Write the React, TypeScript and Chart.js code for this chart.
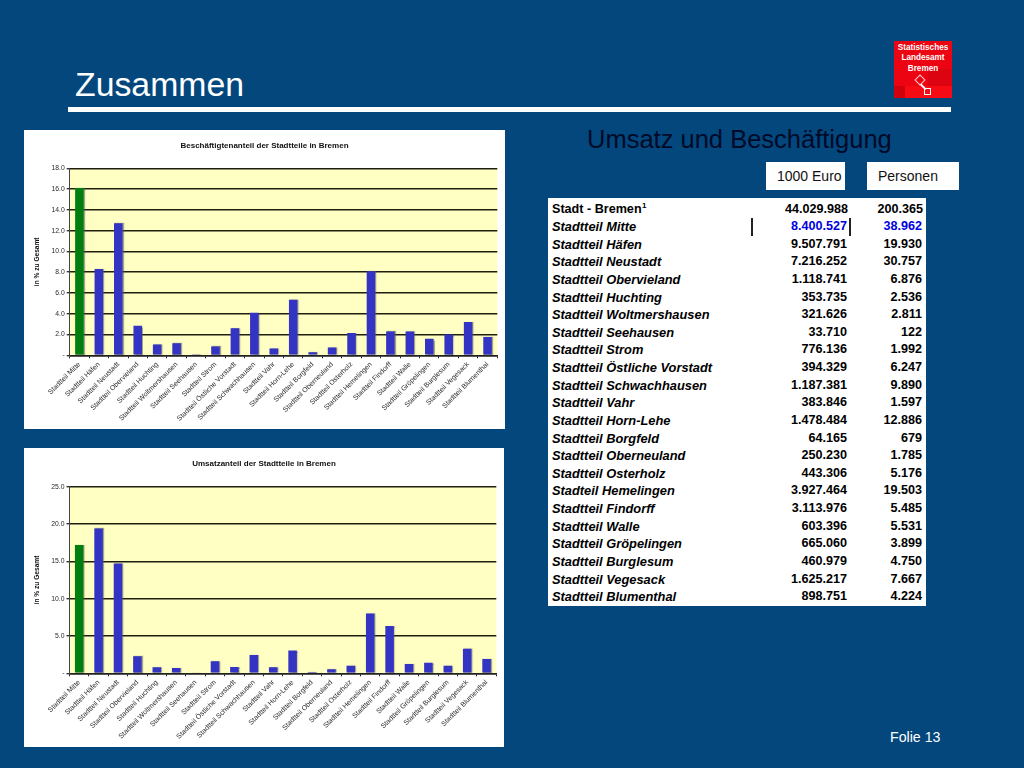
import React, { useEffect, useRef } from "react";
import { Chart, registerables } from "chart.js";

Chart.register(...registerables);

const FONT = '"Liberation Sans", Arial, sans-serif';

const categories = [
  "Stadtteil Mitte", "Stadtteil Häfen", "Stadtteil Neustadt", "Stadtteil Obervieland",
  "Stadtteil Huchting", "Stadtteil Woltmershausen", "Stadtteil Seehausen", "Stadtteil Strom",
  "Stadtteil Östliche Vorstadt", "Stadtteil Schwachhausen", "Stadtteil Vahr", "Stadtteil Horn-Lehe",
  "Stadtteil Borgfeld", "Stadtteil Oberneuland", "Stadtteil Osterholz", "Stadtteil Hemelingen",
  "Stadtteil Findorff", "Stadtteil Walle", "Stadtteil Gröpelingen", "Stadtteil Burglesum",
  "Stadtteil Vegesack", "Stadtteil Blumenthal",
];

const employmentShare = [16.1, 8.3, 12.7, 2.85, 1.05, 1.15, 0.1, 0.85, 2.6, 4.1, 0.65, 5.35, 0.3, 0.75, 2.15, 8.1, 2.3, 2.3, 1.6, 2.0, 3.2, 1.75];
const revenueShare = [17.2, 19.4, 14.7, 2.3, 0.8, 0.7, 0.12, 1.6, 0.85, 2.45, 0.8, 3.05, 0.18, 0.55, 1.0, 8.0, 6.35, 1.25, 1.4, 1.0, 3.3, 1.9];

const tableNames = [
  "Stadtteil Mitte", "Stadtteil Häfen", "Stadtteil Neustadt", "Stadtteil Obervieland",
  "Stadtteil Huchting", "Stadtteil Woltmershausen", "Stadtteil Seehausen", "Stadtteil Strom",
  "Stadtteil Östliche Vorstadt", "Stadtteil Schwachhausen", "Stadtteil Vahr", "Stadtteil Horn-Lehe",
  "Stadtteil Borgfeld", "Stadtteil Oberneuland", "Stadtteil Osterholz", "Stadteil Hemelingen",
  "Stadtteil Findorff", "Stadtteil Walle", "Stadtteil Gröpelingen", "Stadtteil Burglesum",
  "Stadtteil Vegesack", "Stadtteil Blumenthal",
];
const tableEuro = ["8.400.527", "9.507.791", "7.216.252", "1.118.741", "353.735", "321.626", "33.710", "776.136", "394.329", "1.187.381", "383.846", "1.478.484", "64.165", "250.230", "443.306", "3.927.464", "3.113.976", "603.396", "665.060", "460.979", "1.625.217", "898.751"];
const tablePersons = ["38.962", "19.930", "30.757", "6.876", "2.536", "2.811", "122", "1.992", "6.247", "9.890", "1.597", "12.886", "679", "1.785", "5.176", "19.503", "5.485", "5.531", "3.899", "4.750", "7.667", "4.224"];

const plotBackground = {
  id: "plotBackground",
  beforeDraw(chart: any) {
    const { ctx, chartArea: a } = chart;
    ctx.save();
    ctx.fillStyle = "#FFFFC4";
    ctx.fillRect(a.left, a.top, a.right - a.left, a.bottom - a.top);
    ctx.restore();
  },
  beforeDatasetsDraw(chart: any) {
    const { ctx } = chart;
    ctx.save();
    ctx.shadowColor = "rgba(90,90,90,0.55)";
    ctx.shadowOffsetX = 1;
    ctx.shadowOffsetY = 0;
    ctx.shadowBlur = 1;
  },
  afterDatasetsDraw(chart: any) {
    chart.ctx.restore();
  },
};

type PanelProps = {
  title: string;
  values: number[];
  max: number;
  step: number;
  width: number;
  height: number;
  plotLeft: number;
  plotRight: number;
  plotTop: number;
  plotBottom: number;
  left: number;
  top: number;
};

function BarPanel(p: PanelProps) {
  const ref = useRef<HTMLCanvasElement>(null);
  useEffect(() => {
    const side = p.width - p.plotRight;
    const chart = new Chart(ref.current as HTMLCanvasElement, {
      type: "bar",
      plugins: [plotBackground],
      data: {
        labels: categories,
        datasets: [
          {
            data: p.values,
            backgroundColor: p.values.map((_, i) => (i === 0 ? "#007F10" : "#3333C4")),
            barPercentage: 0.44,
            categoryPercentage: 1,
          },
        ],
      },
      options: {
        responsive: false,
        animation: false,
        devicePixelRatio: 1,
        layout: { padding: { left: side, right: side, top: 0, bottom: 0 } },
        plugins: {
          legend: { display: false },
          tooltip: { enabled: false },
          title: {
            display: true,
            text: p.title,
            color: "#111",
            font: { family: FONT, size: 8, weight: "bold", lineHeight: 1.2 },
            padding: { top: 11, bottom: p.plotTop - 11 - 8 * 1.2 },
          },
        },
        scales: {
          x: {
            afterFit(s: any) {
              s.height = p.height - p.plotBottom;
              s.paddingLeft = 0;
              s.paddingRight = 0;
            },
            grid: { display: true, drawOnChartArea: false, drawTicks: true, tickLength: 3, color: "#222", offset: true },
            border: { color: "#222", width: 1.4 },
            ticks: {
              autoSkip: false,
              maxRotation: 45,
              minRotation: 45,
              padding: 2,
              color: "#2a2a2a",
              font: { family: FONT, size: 7 },
            },
          },
          y: {
            min: 0,
            max: p.max,
            afterFit(s: any) {
              s.width = p.plotLeft - side;
            },
            afterTickToLabelConversion(s: any) {
              s.ticks.forEach((t: any) => {
                t.label = t.value === 0 ? "-" : t.value.toFixed(1);
              });
            },
            grid: { color: "#1f1f10", lineWidth: 1.4, tickLength: 3, tickColor: "#333" },
            border: { color: "#444", width: 1 },
            title: {
              display: true,
              text: "in % zu Gesamt",
              color: "#111",
              font: { family: FONT, size: 6.6, weight: "bold" },
              padding: { top: 1.8, bottom: 4 },
            },
            ticks: {
              stepSize: p.step,
              padding: 2,
              color: "#2a2a2a",
              font: { family: FONT, size: 6.8 },
            },
          },
        },
      },
    } as any);
    return () => chart.destroy();
  }, []);
  return (
    <div
      style={{
        position: "absolute",
        left: p.left,
        top: p.top,
        width: p.width,
        height: p.height,
        background: "#fff",
      }}
    >
      <canvas ref={ref} width={p.width} height={p.height} style={{ display: "block" }} />
    </div>
  );
}

const abs = (o: React.CSSProperties): React.CSSProperties => ({ position: "absolute", ...o });

function DataTable() {
  const rowH = 17.62;
  const cell = (i: number, extra: React.CSSProperties): React.CSSProperties =>
    abs({ top: 2.5 + i * rowH, height: rowH, lineHeight: `${rowH}px`, whiteSpace: "nowrap", ...extra });
  return (
    <div
      style={abs({
        left: 548,
        top: 198,
        width: 378,
        height: 408,
        background: "#fff",
        fontFamily: FONT,
        fontWeight: "bold",
        fontSize: 12.6,
        color: "#000",
      })}
    >
      <div style={cell(0, { left: 4 })}>
        Stadt - Bremen
        <span style={{ fontSize: 8, position: "relative", top: -5, left: 0.5 }}>1</span>
      </div>
      <div style={cell(0, { right: 78 })}>44.029.988</div>
      <div style={cell(0, { right: 3 })}>200.365</div>
      {tableNames.map((name, i) => (
        <React.Fragment key={name}>
          <div style={cell(i + 1, { left: 4, fontStyle: "italic", fontSize: 12.85 })}>{name}</div>
          <div style={cell(i + 1, { right: 79, color: i === 0 ? "#0000E0" : "#000" })}>{tableEuro[i]}</div>
          <div style={cell(i + 1, { right: 4, color: i === 0 ? "#0000E0" : "#000" })}>{tablePersons[i]}</div>
        </React.Fragment>
      ))}
      <div style={abs({ left: 203, top: 20, width: 1.5, height: 18, background: "#222" })} />
      <div style={abs({ left: 301, top: 20, width: 1.5, height: 18, background: "#222" })} />
    </div>
  );
}

function Logo() {
  return (
    <div
      style={abs({
        left: 894,
        top: 41,
        width: 58,
        height: 57,
        background: "#EC0412",
        color: "#fff",
        fontFamily: FONT,
        fontWeight: "bold",
        fontSize: 8.2,
        lineHeight: "10.3px",
        textAlign: "center",
        overflow: "hidden",
      })}
    >
      <div style={abs({ left: 0, top: 45, width: 11, height: 12, background: "#D0000C" })} />
      <div style={abs({ left: 34, top: 28, width: 24, height: 17, background: "#DC0410" })} />
      <div style={abs({ left: 11, top: 45, width: 47, height: 12, background: "#F60A14" })} />
      <div style={{ position: "relative", paddingTop: 2 }}>
        Statistisches
        <br />
        Landesamt
        <br />
        Bremen
      </div>
      <div style={abs({ left: 22, top: 35, width: 8, height: 8, border: "1.5px solid #fcc", transform: "rotate(45deg)", boxSizing: "border-box" })} />
      <div style={abs({ left: 26, top: 45, width: 7, height: 1.5, background: "#fff", transform: "rotate(45deg)" })} />
      <div style={abs({ left: 29.5, top: 46.5, width: 7, height: 7, border: "1.5px solid #fff", boxSizing: "border-box" })} />
    </div>
  );
}

export default function App() {
  return (
    <div style={abs({ left: 0, top: 0, width: 1024, height: 768, background: "#03477C", overflow: "hidden", fontFamily: FONT })}>
      <div style={abs({ left: 75, top: 64, fontSize: 33.8, lineHeight: "40px", color: "#fff" })}>Zusammen</div>
      <div style={abs({ left: 68, top: 107, width: 883, height: 5, background: "#fff" })} />
      <Logo />
      <BarPanel
        title="Beschäftigtenanteil der Stadtteile in Bremen"
        values={employmentShare}
        max={18}
        step={2}
        left={24}
        top={130}
        width={481}
        height={299}
        plotLeft={45.7}
        plotRight={473.3}
        plotTop={38.3}
        plotBottom={225.3}
      />
      <BarPanel
        title="Umsatzanteil der Stadtteile in Bremen"
        values={revenueShare}
        max={25}
        step={5}
        left={24}
        top={448}
        width={480}
        height={299}
        plotLeft={45.5}
        plotRight={472.3}
        plotTop={38.7}
        plotBottom={225.3}
      />
      <div style={abs({ left: 587, top: 124, fontSize: 25.5, lineHeight: "30px", color: "#000A28" })}>Umsatz und Beschäftigung</div>
      <div style={abs({ left: 766, top: 162, width: 79, height: 28, background: "#fff", fontSize: 14, lineHeight: "29px", paddingLeft: 11, boxSizing: "border-box", color: "#111" })}>1000 Euro</div>
      <div style={abs({ left: 867, top: 162, width: 92, height: 28, background: "#fff", fontSize: 14, lineHeight: "29px", paddingLeft: 11, boxSizing: "border-box", color: "#111" })}>Personen</div>
      <DataTable />
      <div style={abs({ left: 890, top: 729, fontSize: 14.2, lineHeight: "16px", color: "#fff" })}>Folie 13</div>
    </div>
  );
}
